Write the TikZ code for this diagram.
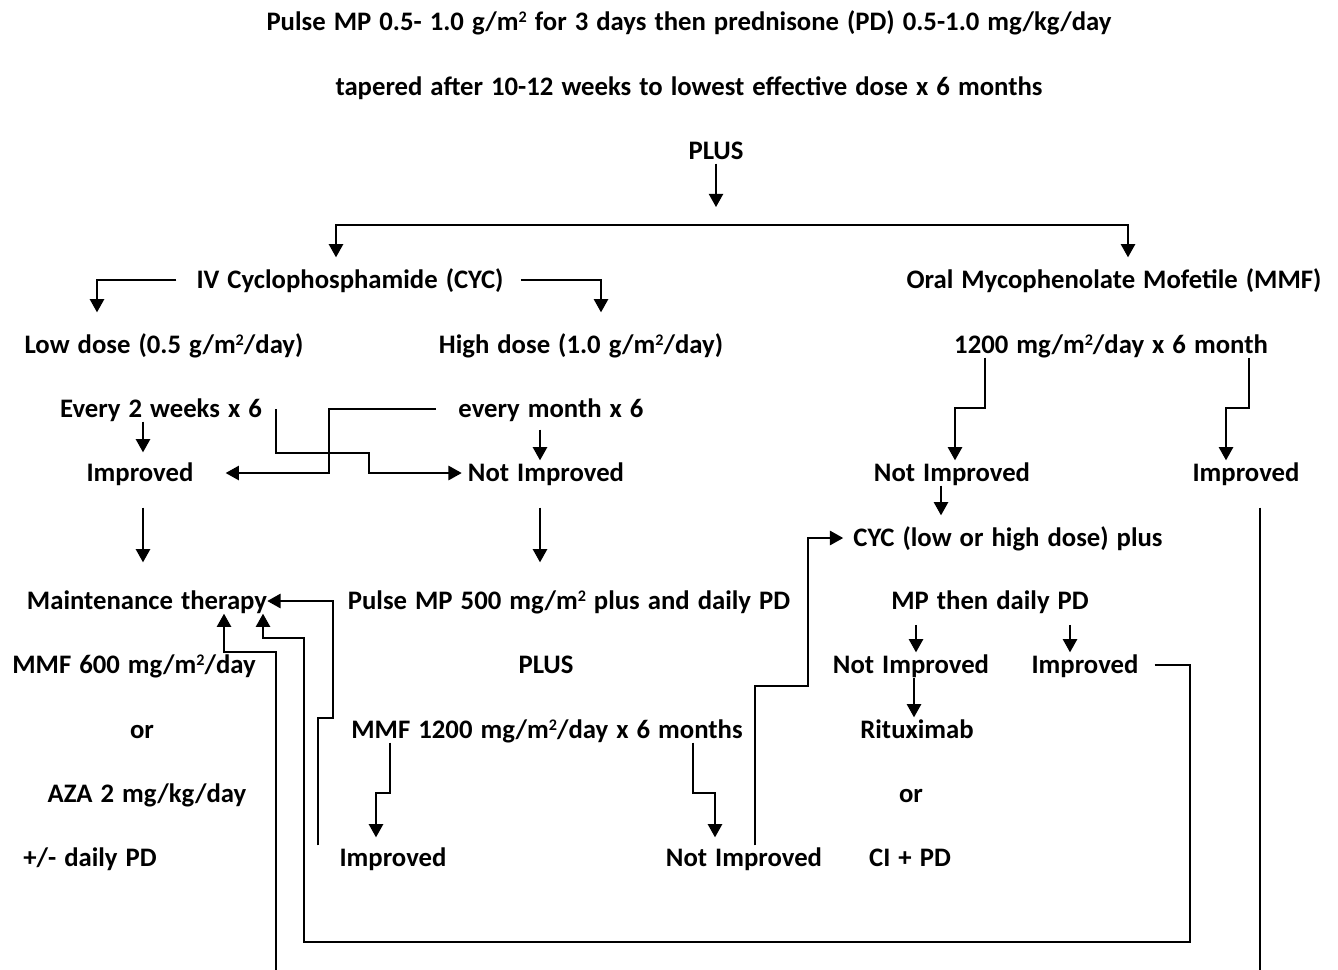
\documentclass[tikz,border=0pt]{standalone}
\usepackage{fontspec}
\setmainfont{Carlito}
\usetikzlibrary{positioning}
\usetikzlibrary{arrows.meta}
\newcommand{\msq}{m\raisebox{0.6ex}{\fontsize{11.5}{12}\selectfont 2}}
\newcommand{\lblfont}{\fontsize{19}{22}\selectfont\bfseries\spaceskip=0.3em plus 0.1em\relax}

\begin{document}
\begin{tikzpicture}[x=0.025cm, y=-0.025cm]
    \tikzstyle{lbl} = [inner xsep=0pt, inner ysep=0.1cm, text height=12pt,
    text depth=0pt, font=\lblfont]
    \tikzstyle{line} = [draw, line width=1pt, -{Triangle[length=0.33cm, width=0.36cm]}]
    \clip (0,0) rectangle (1338,969);
    % header
    \node [lbl] (t1) at (689,22) {Pulse MP 0.5- 1.0 g/\msq{} for 3 days then prednisone (PD) 0.5-1.0 mg/kg/day};
    \node [lbl] (t2) at (689,87) {tapered after 10-12 weeks to lowest effective dose x 6 months};
    \node [lbl] (plus1) at (716,151) {PLUS};
    \coordinate (split) at (716,225);
    % CYC branch
    \node [lbl] (cyc) at (350,280) {IV Cyclophosphamide (CYC)};
    \node [lbl] (low) at (164,345) {Low dose (0.5 g/\msq/day)};
    \node [lbl] (high) at (581,345) {High dose (1.0 g/\msq/day)};
    \node [lbl] (every2) at (161,409) {Every 2 weeks x 6};
    \node [lbl] (month) at (551,409) {every month x 6};
    \node [lbl] (imp1) at (140,473) {Improved};
    \node [lbl] (notimp1) at (546,473) {Not Improved};
    \node [lbl] (maint) at (147,601) {Maintenance therapy};
    \node [lbl] (mmf600) at (134,665) {MMF 600 mg/\msq/day};
    \node [lbl] (or1) at (142,730) {or};
    \node [lbl] (aza) at (147,794) {AZA 2 mg/kg/day};
    \node [lbl] (pdd) at (90,858) {+/- daily PD};
    \node [lbl] (pulse2) at (569,601) {Pulse MP 500 mg/\msq{} plus and daily PD};
    \node [lbl] (plus2) at (546,665) {PLUS};
    \node [lbl] (mmf1200) at (547,730) {MMF 1200 mg/\msq/day x 6 months};
    \node [lbl] (imp2) at (393,858) {Improved};
    \node [lbl] (notimp2) at (744,858) {Not Improved};
    % MMF branch
    \node [lbl] (mmf) at (1114,280) {Oral Mycophenolate Mofetile (MMF)};
    \node [lbl] (mdose) at (1111,345) {1200 mg/\msq/day x 6 month};
    \node [lbl] (notimp3) at (952,473) {Not Improved};
    \node [lbl] (imp3) at (1246,473) {Improved};
    \node [lbl] (cycplus) at (1008,538) {CYC (low or high dose) plus};
    \node [lbl] (mpd) at (990,601) {MP then daily PD};
    \node [lbl] (notimp4) at (911,665) {Not Improved};
    \node [lbl] (imp4) at (1085,665) {Improved};
    \node [lbl] (ritux) at (917,730) {Rituximab};
    \node [lbl] (or2) at (911,794) {or};
    \node [lbl] (ci) at (910,858) {CI + PD};
    % top split
    \path [line, shorten >=0.45cm] (plus1) -- (split);
    \path [line, shorten >=0.25cm] (split) -| (cyc.north -| 336,0);
    \path [line, shorten >=0.25cm] (split) -| (mmf.north -| 1128,0);
    \path [line, shorten <=0.5cm, shorten >=0.5cm] (cyc.west) -| (low.north -| 97,0);
    \path [line, shorten <=0.43cm, shorten >=0.5cm] (cyc.east) -| (high.north -| 601,0);
    % CYC dosing
    \path [line, shorten >=0.2cm] (every2.south -| 143,0) -- (imp1.north -| 143,0);
    \path [line, shorten <=0.2cm] (month.south -| 540,0) -- (notimp1.north -| 540,0);
    \path [line, shorten >=0.15cm] ([xshift=0.35cm]every2.east) |- (369,453) |- (notimp1.west);
    \path [line, shorten <=0.55cm, shorten >=0.8cm] (month.west) -| (329,473) -- (imp1.east);
    \path [line, shorten <=0.55cm, shorten >=0.65cm] (imp1.south -| 143,0) -- (maint.north -| 143,0);
    \path [line, shorten <=0.55cm, shorten >=0.65cm] (notimp1.south -| 540,0) -- (pulse2.north -| 540,0);
    \path [line, shorten >=0.2cm] (mmf1200.south -| 390,0) |- (376,793) -- (imp2.north -| 376,0);
    \path [line, shorten >=0.2cm] (mmf1200.south -| 693,0) |- (715,793) -- (notimp2.north -| 715,0);
    \path [line] (imp2.north -| 318,0) |- (333,718) |- (maint.east);
    \path [line, shorten >=0.25cm] (notimp2.north -| 755,0) |- (808,686) |- (cycplus.west);
    % MMF dosing
    \path [line] (mdose.south -| 985,0) |- (955,408) -- (notimp3.north -| 955,0);
    \path [line] (mdose.south -| 1249,0) |- (1226,408) -- (imp3.north -| 1226,0);
    \path [line, shorten >=0.25cm] (notimp3.south -| 941,0) -- (cycplus.north -| 941,0);
    \path [line, shorten <=0.28cm] (mpd.south -| 916,0) -- (notimp4.north -| 916,0);
    \path [line, shorten <=0.28cm] (mpd.south -| 1070,0) -- (imp4.north -| 1070,0);
    \path [line] (notimp4.south -| 914,0) -- (ritux.north -| 914,0);
    % back to maintenance
    \path [line, shorten <=0.4cm] (imp4.east) -| (1190,942) -| (304,638) -| (maint.south -| 263,0);
    \path [line, shorten <=0.55cm] (imp3.south -| 1260,0) -- (1260,1000) -| (276,652) -| (maint.south -| 224,0);
\end{tikzpicture}
\end{document}
